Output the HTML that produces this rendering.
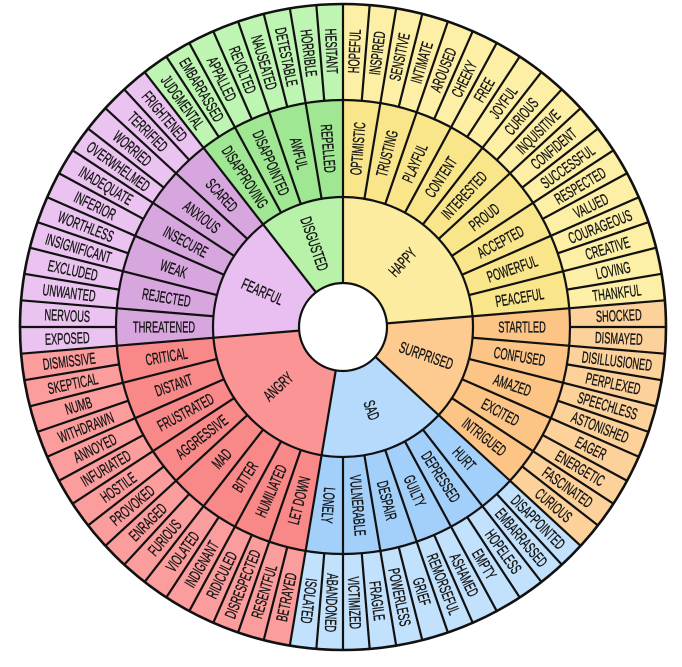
<!DOCTYPE html>
<html><head><meta charset="utf-8"><style>
html,body{margin:0;padding:0;background:#fff;width:682px;height:667px;overflow:hidden;}
svg{display:block}
text{font-family:"Liberation Sans",sans-serif;font-size:16px;fill:#151515;stroke:#151515;stroke-width:0.35;text-anchor:middle;dominant-baseline:central;}
line{stroke:#111;stroke-width:2.2}
</style></head><body>
<svg width="682" height="667" viewBox="0 0 682 667" xmlns="http://www.w3.org/2000/svg">
<g fill="none">
<circle cx="343" cy="327" r="275" stroke-width="96" pathLength="360" stroke="#fdf0a6" stroke-dasharray="85.263 400" transform="rotate(-90 343 327)"/>
<circle cx="343" cy="327" r="275" stroke-width="96" pathLength="360" stroke="#fdd19a" stroke-dasharray="47.368 400" transform="rotate(-4.737 343 327)"/>
<circle cx="343" cy="327" r="275" stroke-width="96" pathLength="360" stroke="#c2e1fc" stroke-dasharray="56.842 400" transform="rotate(42.632 343 327)"/>
<circle cx="343" cy="327" r="275" stroke-width="96" pathLength="360" stroke="#fc9d9d" stroke-dasharray="75.789 400" transform="rotate(99.474 343 327)"/>
<circle cx="343" cy="327" r="275" stroke-width="96" pathLength="360" stroke="#ebc3f0" stroke-dasharray="56.842 400" transform="rotate(175.263 343 327)"/>
<circle cx="343" cy="327" r="275" stroke-width="96" pathLength="360" stroke="#bff5b2" stroke-dasharray="37.895 400" transform="rotate(232.105 343 327)"/>
<circle cx="343" cy="327" r="178.5" stroke-width="97" pathLength="360" stroke="#f9e68b" stroke-dasharray="85.263 400" transform="rotate(-90 343 327)"/>
<circle cx="343" cy="327" r="178.5" stroke-width="97" pathLength="360" stroke="#fcc586" stroke-dasharray="47.368 400" transform="rotate(-4.737 343 327)"/>
<circle cx="343" cy="327" r="178.5" stroke-width="97" pathLength="360" stroke="#a3d0fb" stroke-dasharray="56.842 400" transform="rotate(42.632 343 327)"/>
<circle cx="343" cy="327" r="178.5" stroke-width="97" pathLength="360" stroke="#f98888" stroke-dasharray="75.789 400" transform="rotate(99.474 343 327)"/>
<circle cx="343" cy="327" r="178.5" stroke-width="97" pathLength="360" stroke="#d8a6df" stroke-dasharray="56.842 400" transform="rotate(175.263 343 327)"/>
<circle cx="343" cy="327" r="178.5" stroke-width="97" pathLength="360" stroke="#9fe792" stroke-dasharray="37.895 400" transform="rotate(232.105 343 327)"/>
<circle cx="343" cy="327" r="87" stroke-width="86" pathLength="360" stroke="#fbec9f" stroke-dasharray="85.263 400" transform="rotate(-90 343 327)"/>
<circle cx="343" cy="327" r="87" stroke-width="86" pathLength="360" stroke="#fdcb90" stroke-dasharray="47.368 400" transform="rotate(-4.737 343 327)"/>
<circle cx="343" cy="327" r="87" stroke-width="86" pathLength="360" stroke="#b5dafc" stroke-dasharray="56.842 400" transform="rotate(42.632 343 327)"/>
<circle cx="343" cy="327" r="87" stroke-width="86" pathLength="360" stroke="#fb9595" stroke-dasharray="75.789 400" transform="rotate(99.474 343 327)"/>
<circle cx="343" cy="327" r="87" stroke-width="86" pathLength="360" stroke="#e9bef0" stroke-dasharray="56.842 400" transform="rotate(175.263 343 327)"/>
<circle cx="343" cy="327" r="87" stroke-width="86" pathLength="360" stroke="#b7f2a8" stroke-dasharray="37.895 400" transform="rotate(232.105 343 327)"/>
</g>
<g>
<line x1="343" y1="283" x2="343" y2="4" transform="rotate(0 343 327)"/>
<line x1="343" y1="283" x2="343" y2="4" transform="rotate(85.263 343 327)"/>
<line x1="343" y1="283" x2="343" y2="4" transform="rotate(132.632 343 327)"/>
<line x1="343" y1="283" x2="343" y2="4" transform="rotate(189.474 343 327)"/>
<line x1="343" y1="283" x2="343" y2="4" transform="rotate(265.263 343 327)"/>
<line x1="343" y1="283" x2="343" y2="4" transform="rotate(322.105 343 327)"/>
</g>
<g>
<line x1="343" y1="197" x2="343" y2="4" transform="rotate(9.474 343 327)"/>
<line x1="343" y1="197" x2="343" y2="4" transform="rotate(18.947 343 327)"/>
<line x1="343" y1="197" x2="343" y2="4" transform="rotate(28.421 343 327)"/>
<line x1="343" y1="197" x2="343" y2="4" transform="rotate(37.895 343 327)"/>
<line x1="343" y1="197" x2="343" y2="4" transform="rotate(47.368 343 327)"/>
<line x1="343" y1="197" x2="343" y2="4" transform="rotate(56.842 343 327)"/>
<line x1="343" y1="197" x2="343" y2="4" transform="rotate(66.316 343 327)"/>
<line x1="343" y1="197" x2="343" y2="4" transform="rotate(75.789 343 327)"/>
<line x1="343" y1="197" x2="343" y2="4" transform="rotate(94.737 343 327)"/>
<line x1="343" y1="197" x2="343" y2="4" transform="rotate(104.211 343 327)"/>
<line x1="343" y1="197" x2="343" y2="4" transform="rotate(113.684 343 327)"/>
<line x1="343" y1="197" x2="343" y2="4" transform="rotate(123.158 343 327)"/>
<line x1="343" y1="197" x2="343" y2="4" transform="rotate(142.105 343 327)"/>
<line x1="343" y1="197" x2="343" y2="4" transform="rotate(151.579 343 327)"/>
<line x1="343" y1="197" x2="343" y2="4" transform="rotate(161.053 343 327)"/>
<line x1="343" y1="197" x2="343" y2="4" transform="rotate(170.526 343 327)"/>
<line x1="343" y1="197" x2="343" y2="4" transform="rotate(180 343 327)"/>
<line x1="343" y1="197" x2="343" y2="4" transform="rotate(198.947 343 327)"/>
<line x1="343" y1="197" x2="343" y2="4" transform="rotate(208.421 343 327)"/>
<line x1="343" y1="197" x2="343" y2="4" transform="rotate(217.895 343 327)"/>
<line x1="343" y1="197" x2="343" y2="4" transform="rotate(227.368 343 327)"/>
<line x1="343" y1="197" x2="343" y2="4" transform="rotate(236.842 343 327)"/>
<line x1="343" y1="197" x2="343" y2="4" transform="rotate(246.316 343 327)"/>
<line x1="343" y1="197" x2="343" y2="4" transform="rotate(255.789 343 327)"/>
<line x1="343" y1="197" x2="343" y2="4" transform="rotate(274.737 343 327)"/>
<line x1="343" y1="197" x2="343" y2="4" transform="rotate(284.211 343 327)"/>
<line x1="343" y1="197" x2="343" y2="4" transform="rotate(293.684 343 327)"/>
<line x1="343" y1="197" x2="343" y2="4" transform="rotate(303.158 343 327)"/>
<line x1="343" y1="197" x2="343" y2="4" transform="rotate(312.632 343 327)"/>
<line x1="343" y1="197" x2="343" y2="4" transform="rotate(331.579 343 327)"/>
<line x1="343" y1="197" x2="343" y2="4" transform="rotate(341.053 343 327)"/>
<line x1="343" y1="197" x2="343" y2="4" transform="rotate(350.526 343 327)"/>
</g>
<g>
<line x1="343" y1="100" x2="343" y2="4" transform="rotate(4.737 343 327)"/>
<line x1="343" y1="100" x2="343" y2="4" transform="rotate(14.211 343 327)"/>
<line x1="343" y1="100" x2="343" y2="4" transform="rotate(23.684 343 327)"/>
<line x1="343" y1="100" x2="343" y2="4" transform="rotate(33.158 343 327)"/>
<line x1="343" y1="100" x2="343" y2="4" transform="rotate(42.632 343 327)"/>
<line x1="343" y1="100" x2="343" y2="4" transform="rotate(52.105 343 327)"/>
<line x1="343" y1="100" x2="343" y2="4" transform="rotate(61.579 343 327)"/>
<line x1="343" y1="100" x2="343" y2="4" transform="rotate(71.053 343 327)"/>
<line x1="343" y1="100" x2="343" y2="4" transform="rotate(80.526 343 327)"/>
<line x1="343" y1="100" x2="343" y2="4" transform="rotate(90 343 327)"/>
<line x1="343" y1="100" x2="343" y2="4" transform="rotate(99.474 343 327)"/>
<line x1="343" y1="100" x2="343" y2="4" transform="rotate(108.947 343 327)"/>
<line x1="343" y1="100" x2="343" y2="4" transform="rotate(118.421 343 327)"/>
<line x1="343" y1="100" x2="343" y2="4" transform="rotate(127.895 343 327)"/>
<line x1="343" y1="100" x2="343" y2="4" transform="rotate(137.368 343 327)"/>
<line x1="343" y1="100" x2="343" y2="4" transform="rotate(146.842 343 327)"/>
<line x1="343" y1="100" x2="343" y2="4" transform="rotate(156.316 343 327)"/>
<line x1="343" y1="100" x2="343" y2="4" transform="rotate(165.789 343 327)"/>
<line x1="343" y1="100" x2="343" y2="4" transform="rotate(175.263 343 327)"/>
<line x1="343" y1="100" x2="343" y2="4" transform="rotate(184.737 343 327)"/>
<line x1="343" y1="100" x2="343" y2="4" transform="rotate(194.211 343 327)"/>
<line x1="343" y1="100" x2="343" y2="4" transform="rotate(203.684 343 327)"/>
<line x1="343" y1="100" x2="343" y2="4" transform="rotate(213.158 343 327)"/>
<line x1="343" y1="100" x2="343" y2="4" transform="rotate(222.632 343 327)"/>
<line x1="343" y1="100" x2="343" y2="4" transform="rotate(232.105 343 327)"/>
<line x1="343" y1="100" x2="343" y2="4" transform="rotate(241.579 343 327)"/>
<line x1="343" y1="100" x2="343" y2="4" transform="rotate(251.053 343 327)"/>
<line x1="343" y1="100" x2="343" y2="4" transform="rotate(260.526 343 327)"/>
<line x1="343" y1="100" x2="343" y2="4" transform="rotate(270 343 327)"/>
<line x1="343" y1="100" x2="343" y2="4" transform="rotate(279.474 343 327)"/>
<line x1="343" y1="100" x2="343" y2="4" transform="rotate(288.947 343 327)"/>
<line x1="343" y1="100" x2="343" y2="4" transform="rotate(298.421 343 327)"/>
<line x1="343" y1="100" x2="343" y2="4" transform="rotate(307.895 343 327)"/>
<line x1="343" y1="100" x2="343" y2="4" transform="rotate(317.368 343 327)"/>
<line x1="343" y1="100" x2="343" y2="4" transform="rotate(326.842 343 327)"/>
<line x1="343" y1="100" x2="343" y2="4" transform="rotate(336.316 343 327)"/>
<line x1="343" y1="100" x2="343" y2="4" transform="rotate(345.789 343 327)"/>
<line x1="343" y1="100" x2="343" y2="4" transform="rotate(355.263 343 327)"/>
</g>
<g fill="none" stroke="#111" stroke-width="2.2">
<circle cx="343" cy="327" r="130"/>
<circle cx="343" cy="327" r="227"/>
<circle cx="343" cy="327" r="323" stroke-width="2.6"/>
</g>
<circle cx="343" cy="327" r="44" fill="#fff" stroke="#111" stroke-width="2.2"/>

<g>
<text transform="rotate(-87.63 343 327) translate(619 327) scale(.58 1)">HOPEFUL</text>
<text transform="rotate(-82.89 343 327) translate(619 327) scale(.58 1)">INSPIRED</text>
<text transform="rotate(-78.16 343 327) translate(619 327) scale(.58 1)">SENSITIVE</text>
<text transform="rotate(-73.42 343 327) translate(619 327) scale(.58 1)">INTIMATE</text>
<text transform="rotate(-68.68 343 327) translate(619 327) scale(.58 1)">AROUSED</text>
<text transform="rotate(-63.95 343 327) translate(619 327) scale(.58 1)">CHEEKY</text>
<text transform="rotate(-59.21 343 327) translate(619 327) scale(.58 1)">FREE</text>
<text transform="rotate(-54.47 343 327) translate(619 327) scale(.58 1)">JOYFUL</text>
<text transform="rotate(-49.74 343 327) translate(619 327) scale(.58 1)">CURIOUS</text>
<text transform="rotate(-45 343 327) translate(619 327) scale(.58 1)">INQUISITIVE</text>
<text transform="rotate(-40.26 343 327) translate(619 327) scale(.58 1)">CONFIDENT</text>
<text transform="rotate(-35.53 343 327) translate(619 327) scale(.58 1)">SUCCESSFUL</text>
<text transform="rotate(-30.79 343 327) translate(619 327) scale(.58 1)">RESPECTED</text>
<text transform="rotate(-26.05 343 327) translate(619 327) scale(.58 1)">VALUED</text>
<text transform="rotate(-21.32 343 327) translate(619 327) scale(.58 1)">COURAGEOUS</text>
<text transform="rotate(-16.58 343 327) translate(619 327) scale(.58 1)">CREATIVE</text>
<text transform="rotate(-11.84 343 327) translate(619 327) scale(.58 1)">LOVING</text>
<text transform="rotate(-7.11 343 327) translate(619 327) scale(.58 1)">THANKFUL</text>
<text transform="rotate(-2.37 343 327) translate(619 327) scale(.58 1)">SHOCKED</text>
<text transform="rotate(2.37 343 327) translate(619 327) scale(.58 1)">DISMAYED</text>
<text transform="rotate(7.11 343 327) translate(619 327) scale(.58 1)">DISILLUSIONED</text>
<text transform="rotate(11.84 343 327) translate(619 327) scale(.58 1)">PERPLEXED</text>
<text transform="rotate(16.58 343 327) translate(619 327) scale(.58 1)">SPEECHLESS</text>
<text transform="rotate(21.32 343 327) translate(619 327) scale(.58 1)">ASTONISHED</text>
<text transform="rotate(26.05 343 327) translate(619 327) scale(.58 1)">EAGER</text>
<text transform="rotate(30.79 343 327) translate(619 327) scale(.58 1)">ENERGETIC</text>
<text transform="rotate(35.53 343 327) translate(619 327) scale(.58 1)">FASCINATED</text>
<text transform="rotate(40.26 343 327) translate(619 327) scale(.58 1)">CURIOUS</text>
<text transform="rotate(45 343 327) translate(619 327) scale(.58 1)">DISAPPOINTED</text>
<text transform="rotate(49.74 343 327) translate(619 327) scale(.58 1)">EMBARRASSED</text>
<text transform="rotate(54.47 343 327) translate(619 327) scale(.58 1)">HOPELESS</text>
<text transform="rotate(59.21 343 327) translate(619 327) scale(.58 1)">EMPTY</text>
<text transform="rotate(63.95 343 327) translate(619 327) scale(.58 1)">ASHAMED</text>
<text transform="rotate(68.68 343 327) translate(619 327) scale(.58 1)">REMORSEFUL</text>
<text transform="rotate(73.42 343 327) translate(619 327) scale(.58 1)">GRIEF</text>
<text transform="rotate(78.16 343 327) translate(619 327) scale(.58 1)">POWERLESS</text>
<text transform="rotate(82.89 343 327) translate(619 327) scale(.58 1)">FRAGILE</text>
<text transform="rotate(87.63 343 327) translate(619 327) scale(.58 1)">VICTIMIZED</text>
<text transform="rotate(92.37 343 327) translate(619 327) scale(.58 1)">ABANDONED</text>
<text transform="rotate(97.11 343 327) translate(619 327) scale(.58 1)">ISOLATED</text>
<text transform="rotate(281.84 343 327) translate(67 327) scale(.58 1)">BETRAYED</text>
<text transform="rotate(286.58 343 327) translate(67 327) scale(.58 1)">RESENTFUL</text>
<text transform="rotate(291.32 343 327) translate(67 327) scale(.58 1)">DISRESPECTED</text>
<text transform="rotate(296.05 343 327) translate(67 327) scale(.58 1)">RIDICULED</text>
<text transform="rotate(300.79 343 327) translate(67 327) scale(.58 1)">INDIGNANT</text>
<text transform="rotate(305.53 343 327) translate(67 327) scale(.58 1)">VIOLATED</text>
<text transform="rotate(310.26 343 327) translate(67 327) scale(.58 1)">FURIOUS</text>
<text transform="rotate(315 343 327) translate(67 327) scale(.58 1)">ENRAGED</text>
<text transform="rotate(319.74 343 327) translate(67 327) scale(.58 1)">PROVOKED</text>
<text transform="rotate(324.47 343 327) translate(67 327) scale(.58 1)">HOSTILE</text>
<text transform="rotate(329.21 343 327) translate(67 327) scale(.58 1)">INFURIATED</text>
<text transform="rotate(333.95 343 327) translate(67 327) scale(.58 1)">ANNOYED</text>
<text transform="rotate(338.68 343 327) translate(67 327) scale(.58 1)">WITHDRAWN</text>
<text transform="rotate(343.42 343 327) translate(67 327) scale(.58 1)">NUMB</text>
<text transform="rotate(348.16 343 327) translate(67 327) scale(.58 1)">SKEPTICAL</text>
<text transform="rotate(352.89 343 327) translate(67 327) scale(.58 1)">DISMISSIVE</text>
<text transform="rotate(357.63 343 327) translate(67 327) scale(.58 1)">EXPOSED</text>
<text transform="rotate(2.37 343 327) translate(67 327) scale(.58 1)">NERVOUS</text>
<text transform="rotate(7.11 343 327) translate(67 327) scale(.58 1)">UNWANTED</text>
<text transform="rotate(11.84 343 327) translate(67 327) scale(.58 1)">EXCLUDED</text>
<text transform="rotate(16.58 343 327) translate(67 327) scale(.58 1)">INSIGNIFICANT</text>
<text transform="rotate(21.32 343 327) translate(67 327) scale(.58 1)">WORTHLESS</text>
<text transform="rotate(26.05 343 327) translate(67 327) scale(.58 1)">INFERIOR</text>
<text transform="rotate(30.79 343 327) translate(67 327) scale(.58 1)">INADEQUATE</text>
<text transform="rotate(35.53 343 327) translate(67 327) scale(.58 1)">OVERWHELMED</text>
<text transform="rotate(40.26 343 327) translate(67 327) scale(.58 1)">WORRIED</text>
<text transform="rotate(45 343 327) translate(67 327) scale(.58 1)">TERRIFIED</text>
<text transform="rotate(49.74 343 327) translate(67 327) scale(.58 1)">FRIGHTENED</text>
<text transform="rotate(54.47 343 327) translate(67 327) scale(.58 1)">JUDGMENTAL</text>
<text transform="rotate(59.21 343 327) translate(67 327) scale(.58 1)">EMBARRASSED</text>
<text transform="rotate(63.95 343 327) translate(67 327) scale(.58 1)">APPALLED</text>
<text transform="rotate(68.68 343 327) translate(67 327) scale(.58 1)">REVOLTED</text>
<text transform="rotate(73.42 343 327) translate(67 327) scale(.58 1)">NAUSEATED</text>
<text transform="rotate(78.16 343 327) translate(67 327) scale(.58 1)">DETESTABLE</text>
<text transform="rotate(82.89 343 327) translate(67 327) scale(.58 1)">HORRIBLE</text>
<text transform="rotate(87.63 343 327) translate(67 327) scale(.58 1)">HESITANT</text>
</g>
<g>
<text transform="rotate(-85.26 343 327) translate(522 327) scale(.58 1)">OPTIMISTIC</text>
<text transform="rotate(-75.79 343 327) translate(522 327) scale(.58 1)">TRUSTING</text>
<text transform="rotate(-66.32 343 327) translate(522 327) scale(.58 1)">PLAYFUL</text>
<text transform="rotate(-56.84 343 327) translate(522 327) scale(.58 1)">CONTENT</text>
<text transform="rotate(-47.37 343 327) translate(522 327) scale(.58 1)">INTERESTED</text>
<text transform="rotate(-37.89 343 327) translate(522 327) scale(.58 1)">PROUD</text>
<text transform="rotate(-28.42 343 327) translate(522 327) scale(.58 1)">ACCEPTED</text>
<text transform="rotate(-18.95 343 327) translate(522 327) scale(.58 1)">POWERFUL</text>
<text transform="rotate(-9.47 343 327) translate(522 327) scale(.58 1)">PEACEFUL</text>
<text transform="rotate(0 343 327) translate(522 327) scale(.58 1)">STARTLED</text>
<text transform="rotate(9.47 343 327) translate(522 327) scale(.58 1)">CONFUSED</text>
<text transform="rotate(18.95 343 327) translate(522 327) scale(.58 1)">AMAZED</text>
<text transform="rotate(28.42 343 327) translate(522 327) scale(.58 1)">EXCITED</text>
<text transform="rotate(37.89 343 327) translate(522 327) scale(.58 1)">INTRIGUED</text>
<text transform="rotate(47.37 343 327) translate(522 327) scale(.58 1)">HURT</text>
<text transform="rotate(56.84 343 327) translate(522 327) scale(.58 1)">DEPRESSED</text>
<text transform="rotate(66.32 343 327) translate(522 327) scale(.58 1)">GUILTY</text>
<text transform="rotate(75.79 343 327) translate(522 327) scale(.58 1)">DESPAIR</text>
<text transform="rotate(85.26 343 327) translate(522 327) scale(.58 1)">VULNERABLE</text>
<text transform="rotate(94.74 343 327) translate(522 327) scale(.58 1)">LONELY</text>
<text transform="rotate(284.21 343 327) translate(164 327) scale(.58 1)">LET DOWN</text>
<text transform="rotate(293.68 343 327) translate(164 327) scale(.58 1)">HUMILIATED</text>
<text transform="rotate(303.16 343 327) translate(164 327) scale(.58 1)">BITTER</text>
<text transform="rotate(312.63 343 327) translate(164 327) scale(.58 1)">MAD</text>
<text transform="rotate(322.11 343 327) translate(164 327) scale(.58 1)">AGGRESSIVE</text>
<text transform="rotate(331.58 343 327) translate(164 327) scale(.58 1)">FRUSTRATED</text>
<text transform="rotate(341.05 343 327) translate(164 327) scale(.58 1)">DISTANT</text>
<text transform="rotate(350.53 343 327) translate(164 327) scale(.58 1)">CRITICAL</text>
<text transform="rotate(0 343 327) translate(164 327) scale(.58 1)">THREATENED</text>
<text transform="rotate(9.47 343 327) translate(164 327) scale(.58 1)">REJECTED</text>
<text transform="rotate(18.95 343 327) translate(164 327) scale(.58 1)">WEAK</text>
<text transform="rotate(28.42 343 327) translate(164 327) scale(.58 1)">INSECURE</text>
<text transform="rotate(37.89 343 327) translate(164 327) scale(.58 1)">ANXIOUS</text>
<text transform="rotate(47.37 343 327) translate(164 327) scale(.58 1)">SCARED</text>
<text transform="rotate(56.84 343 327) translate(164 327) scale(.58 1)">DISAPPROVING</text>
<text transform="rotate(66.32 343 327) translate(164 327) scale(.58 1)">DISAPPOINTED</text>
<text transform="rotate(75.79 343 327) translate(164 327) scale(.58 1)">AWFUL</text>
<text transform="rotate(85.26 343 327) translate(164 327) scale(.58 1)">REPELLED</text>
</g>
<g>
<text transform="rotate(-47.37 343 327) translate(431 327) scale(.6 1)">HAPPY</text>
<text transform="rotate(18.95 343 327) translate(431 327) scale(.6 1)">SURPRISED</text>
<text transform="rotate(71.05 343 327) translate(431 327) scale(.6 1)">SAD</text>
<text transform="rotate(317.37 343 327) translate(255 327) scale(.6 1)">ANGRY</text>
<text transform="rotate(23.68 343 327) translate(255 327) scale(.6 1)">FEARFUL</text>
<text transform="rotate(71.05 343 327) translate(255 327) scale(.6 1)">DISGUSTED</text>
</g>
</svg>
</body></html>
